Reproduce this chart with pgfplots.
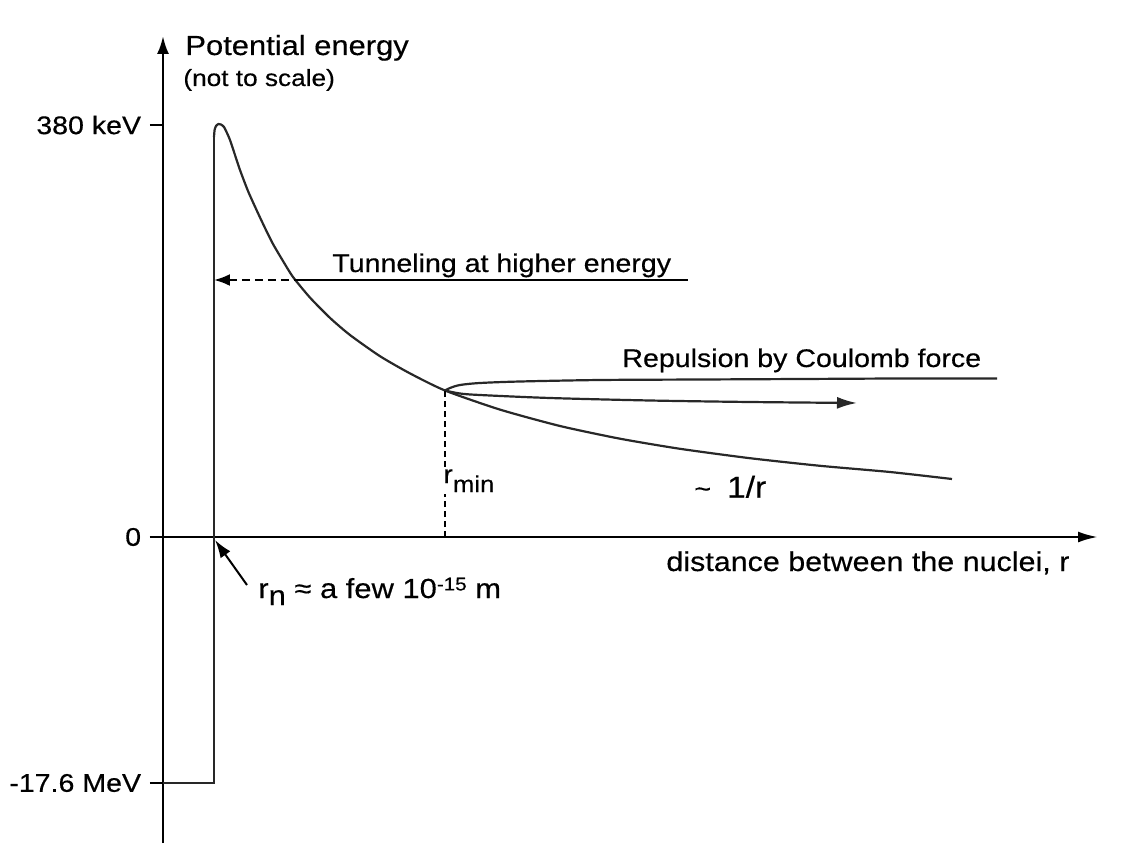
\documentclass[border=0pt]{standalone}
\usepackage{pgfplots}
\pgfplotsset{compat=1.18}
\usepackage{fontspec}
\setmainfont{Liberation Sans}[FakeStretch=1.12, FakeBold=0.4]
\usetikzlibrary{arrows.meta}
\definecolor{curvegray}{RGB}{40,40,40}
\begin{document}
\fontsize{12.75}{15}\selectfont
\begin{tikzpicture}
\begin{axis}[
  x=0.5pt, y=0.5pt,
  xmin=-13, xmax=935, ymin=-306, ymax=501,
  axis lines=middle,
  axis line style={line width=1.3pt},
  every inner x axis line/.append style={-{Latex[length=10pt,width=5.5pt]}},
  every inner y axis line/.append style={-{Latex[length=9pt,width=6pt]}},
  xtick=\empty,
  ytick={-246,0,412},
  yticklabels={-17.6 MeV, 0, 380 keV},
  hide obscured y ticks=false,
  tick align=outside,
  major tick length=6.5pt,
  tick style={line width=1.3pt, black},
  yticklabel style={font=\fontsize{12.75}{15}\selectfont},
  clip=false,
  /pgf/number format/assume math mode=true,
]
% step and wall
\addplot[draw=curvegray, line width=1.1pt, mark=none] coordinates {(0,-246)(51,-246)(51,400)};
% Coulomb barrier
\addplot[draw=curvegray, line width=1.1pt, mark=none, smooth, tension=0.4] coordinates {
(51,400)(51.6,407)(53,411)(55.5,413)(58,412.5)(61,410)(64,404)(67,397)(72,382)(77,367)(85,346)(94,326)(102,309)(110,293)(120,276)(130,260)(147,239.4)(167,219.1)(187,202)(217,180.8)(247,163.6)(282,146.5)(337,127.4)(397,111)(457,98.3)(517,88.2)(587,78.8)(657,71.2)(727,65)(789,58)};
% tunneling line
\addplot[draw=black, line width=1.1pt, mark=none, dash pattern=on 4pt off 2.5pt, {Latex[length=8pt,width=6pt]}-] coordinates {(51,257)(132,257)};
\addplot[draw=black, line width=1.1pt, mark=none] coordinates {(132,257)(525,257)};
% repulsion upper branch
\addplot[draw=curvegray, line width=1.1pt, mark=none, smooth, tension=0.5] coordinates {
(282,146.5)(287,149)(297,152)(317,154)(357,155.5)(437,157)(537,157.5)(637,158)(737,158.5)(834,158.5)};
% repulsion arrow
\addplot[draw=curvegray, line width=1.1pt, mark=none, smooth, tension=0.5, -{Latex[length=10pt,width=6pt]}] coordinates {
(282,146.5)(297,143.5)(317,142)(387,139)(487,136.5)(587,135)(694,134)};
% r_min dashed
\addplot[draw=black, line width=1pt, mark=none, dash pattern=on 3pt off 2pt] coordinates {(282,0)(282,146.5)};
% r_n arrow
\addplot[draw=black, line width=1pt, mark=none, -{Latex[length=9pt,width=6pt]}] coordinates {(84,-48)(52,-3)};

\node[anchor=base west, inner sep=0pt, font=\fontsize{13.8}{16}\selectfont] at (axis cs:22,482) {Potential energy};
\node[anchor=base west, inner sep=0pt, font=\fontsize{11.7}{14}\selectfont] at (axis cs:20,451) {(not to scale)};
\node[anchor=base west, inner sep=0pt] at (axis cs:169,265) {Tunneling at higher energy};
\node[anchor=base west, inner sep=0pt] at (axis cs:459,170) {Repulsion by Coulomb force};
\node[anchor=base west, inner sep=0pt, font=\fontsize{13.6}{16}\selectfont] at (axis cs:503,-34) {distance between the nuclei, r};
\node[anchor=base west, inner sep=1pt, fill=white] at (axis cs:278,54) {r\raisebox{-4.5pt}{\fontsize{11.5}{13}\selectfont min}};
\node[anchor=base west, inner sep=0pt] at (axis cs:531,39.5) {\textasciitilde\hspace{8pt}{\fontsize{15}{18}\selectfont 1/r}};
\node[anchor=base west, inner sep=0pt, font=\fontsize{13.8}{16}\selectfont] at (axis cs:95,-61) {r\raisebox{-3.5pt}{n} ≈ a few 10\raisebox{3.8pt}{\fontsize{9.2}{11}\selectfont -15} m};

\path (axis cs:-163,537) rectangle (axis cs:983,-327);
\end{axis}
\end{tikzpicture}
\end{document}
